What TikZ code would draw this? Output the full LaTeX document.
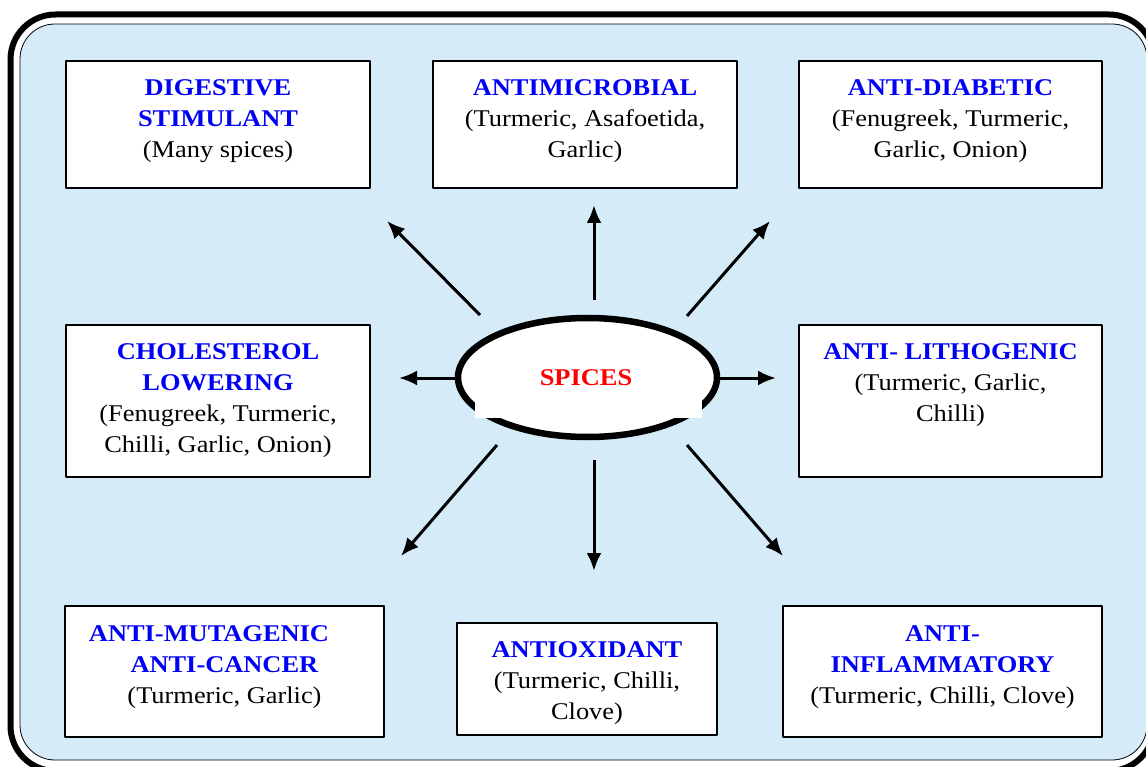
\documentclass[tikz,border=0pt]{standalone}
\usepackage{fontspec}
\setmainfont{Liberation Serif}[FakeStretch=1.1]
\usetikzlibrary{arrows.meta,positioning,shapes.geometric}
\definecolor{bgblue}{RGB}{214,235,248}
\definecolor{ttlblue}{RGB}{0,0,245}
\tikzstyle{every node}=[font=\fontsize{24}{31}\selectfont, text centered]
\tikzstyle{box} = [draw, line width=1.5pt, fill=white]
\tikzstyle{txt} = [align=center, inner sep=0pt]
\tikzstyle{line} = [draw, line width=3pt, -{Latex[length=18pt,width=15pt]}]
\newcommand{\ttl}[1]{\textcolor{ttlblue}{\textbf{#1}}}

\begin{document}
\begin{tikzpicture}[x=1pt,y=-1pt,line join=bevel]
    \useasboundingbox (0,0) rectangle (1146,767);

    % frame
    \draw[line width=6pt, rounded corners=45pt, fill=white] (10.5,14.5) rectangle (1154,771);
    \draw[line width=0.8pt, rounded corners=35pt, fill=bgblue] (20,24) rectangle (1147,760);

    % boxes
    \node[box, minimum width=304pt, minimum height=127pt] (dig) at (218,124.5) {};
    \node[box, minimum width=304pt, minimum height=127pt] (amic) at (585,124.5) {};
    \node[box, minimum width=303pt, minimum height=127pt] (adia) at (950.5,124.5) {};
    \node[box, minimum width=304pt, minimum height=152pt] (chol) at (218,401) {};
    \node[box, minimum width=303pt, minimum height=152pt] (lith) at (950.5,401) {};
    \node[box, minimum width=319pt, minimum height=131pt] (amut) at (224.5,671.5) {};
    \node[box, minimum width=260pt, minimum height=112pt] (aox) at (587,679) {};
    \node[box, minimum width=319pt, minimum height=131pt] (ainf) at (942.5,671.5) {};

    \node[txt, below=19pt of dig.north] (digT) {\ttl{DIGESTIVE}\\\ttl{STIMULANT}\\(Many spices)};
    \node[txt, below=19pt of amic.north] (amicT) {\ttl{ANTIMICROBIAL}\\(Turmeric, Asafoetida,\\Garlic)};
    \node[txt, below=19pt of adia.north] (adiaT) {\ttl{ANTI-DIABETIC}\\(Fenugreek, Turmeric,\\Garlic, Onion)};
    \node[txt, below=19pt of chol.north] (cholT) {\ttl{CHOLESTEROL}\\\ttl{LOWERING}\\(Fenugreek, Turmeric,\\Chilli, Garlic, Onion)};
    \node[txt, below=19pt of lith.north] (lithT) {\ttl{ANTI- LITHOGENIC}\\(Turmeric, Garlic,\\Chilli)};
    \node[txt, below=20pt of amut.north] (amutT) {\ttl{ANTI-MUTAGENIC}\kern31pt\\\ttl{ANTI-CANCER}\\(Turmeric, Garlic)};
    \node[txt, below=19pt of aox.north] (aoxT) {\ttl{ANTIOXIDANT}\\(Turmeric, Chilli,\\Clove)};
    \node[txt, below=20pt of ainf.north] (ainfT) {\ttl{ANTI-}\\\ttl{INFLAMMATORY}\\(Turmeric, Chilli, Clove)};

    % centre
    \node[ellipse, draw, line width=6.5pt, fill=white, minimum width=259pt, minimum height=119pt, inner sep=0pt] (spc) at (587.5,377.5) {};
    \fill[white] (475,356) rectangle (702,418);
    \node (spcT) at (586,378) {\textcolor{red}{\textbf{SPICES}}};

    % arrows
    \coordinate (ul0) at (480,315);  \coordinate (ul1) at (387,221);
    \coordinate (up0) at (594,300);  \coordinate (up1) at (594,205);
    \coordinate (ur0) at (687,316);  \coordinate (ur1) at (770,221);
    \coordinate (lf0) at (455,378);  \coordinate (lf1) at (399,378);
    \coordinate (rt0) at (720,378);  \coordinate (rt1) at (776,378);
    \coordinate (dl0) at (497,445);  \coordinate (dl1) at (401,556);
    \coordinate (dn0) at (594,460);  \coordinate (dn1) at (594,571);
    \coordinate (dr0) at (687,445);  \coordinate (dr1) at (783,556);

    \foreach \d in {ul,up,ur,lf,rt,dl,dn,dr}
        \draw[line] (\d0) -- (\d1);

\end{tikzpicture}
\end{document}
